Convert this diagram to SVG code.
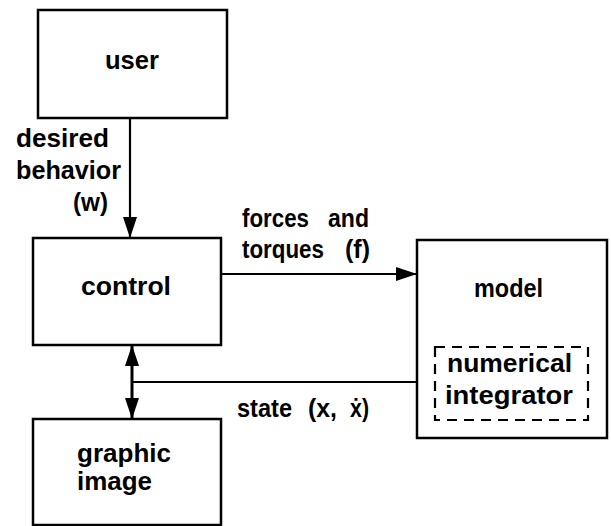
<svg xmlns="http://www.w3.org/2000/svg" width="611" height="526" viewBox="0 0 611 526">
<style>
.box{fill:#fff;stroke:#000;stroke-width:2.5}
.dash{fill:none;stroke:#000;stroke-width:2.2;stroke-dasharray:10 7}
.con{fill:none;stroke:#000;stroke-width:2.2}
.thick{stroke-width:3}
text{font-family:"Liberation Sans",Arial,Helvetica,sans-serif;font-size:25px;font-weight:bold;fill:#000}
</style>
<defs>
<marker id="ah" viewBox="0 0 21 14" refX="21" refY="7" markerWidth="21" markerHeight="14" markerUnits="userSpaceOnUse" orient="auto-start-reverse">
<path d="M0,0 L21,7 L0,14 z" fill="#000"/>
</marker>
</defs>
<rect width="611" height="526" fill="#fff"/>
<g id="connectors">
<line class="con" x1="130" y1="118" x2="130" y2="238" marker-end="url(#ah)"/>
<line class="con" x1="221" y1="274" x2="417" y2="274" marker-end="url(#ah)"/>
<line class="con" x1="417" y1="382" x2="132" y2="382"/>
<line class="con thick" x1="132" y1="345" x2="132" y2="419" marker-start="url(#ah)" marker-end="url(#ah)"/>
</g>
<g id="labels">
<text x="16" y="147" textLength="93" lengthAdjust="spacingAndGlyphs">desired</text>
<text x="16" y="179" textLength="105" lengthAdjust="spacingAndGlyphs">behavior</text>
<text x="73" y="211" textLength="35" lengthAdjust="spacingAndGlyphs">(w)</text>
<text x="242" y="227" textLength="67" lengthAdjust="spacingAndGlyphs">forces</text>
<text x="328" y="227" textLength="41" lengthAdjust="spacingAndGlyphs">and</text>
<text x="242" y="258" textLength="82" lengthAdjust="spacingAndGlyphs">torques</text>
<text x="345" y="258" textLength="25" lengthAdjust="spacingAndGlyphs">(f)</text>
<text x="237" y="417" textLength="55" lengthAdjust="spacingAndGlyphs">state</text>
<text x="308" y="417" textLength="29" lengthAdjust="spacingAndGlyphs">(x,</text>
<text x="350" y="417" textLength="19" lengthAdjust="spacingAndGlyphs">ẋ)</text>
</g>
<g id="user">
<rect class="box" x="38" y="10" width="189" height="108"/>
<text x="105" y="69" textLength="54" lengthAdjust="spacingAndGlyphs">user</text>
</g>
<g id="control">
<rect class="box" x="33" y="238" width="188" height="107"/>
<text x="81" y="295" textLength="90" lengthAdjust="spacingAndGlyphs">control</text>
</g>
<g id="model">
<rect class="box" x="417" y="240" width="190" height="198"/>
<text x="474" y="297" textLength="69" lengthAdjust="spacingAndGlyphs">model</text>
<g id="integrator">
<rect class="dash" x="435" y="347" width="153" height="73"/>
<text x="447" y="372" textLength="125" lengthAdjust="spacingAndGlyphs">numerical</text>
<text x="445" y="404" textLength="128" lengthAdjust="spacingAndGlyphs">integrator</text>
</g>
</g>
<g id="graphic">
<rect class="box" x="33" y="419" width="188" height="106"/>
<text x="77" y="462" textLength="94" lengthAdjust="spacingAndGlyphs">graphic</text>
<text x="77" y="490" textLength="75" lengthAdjust="spacingAndGlyphs">image</text>
</g>
</svg>
